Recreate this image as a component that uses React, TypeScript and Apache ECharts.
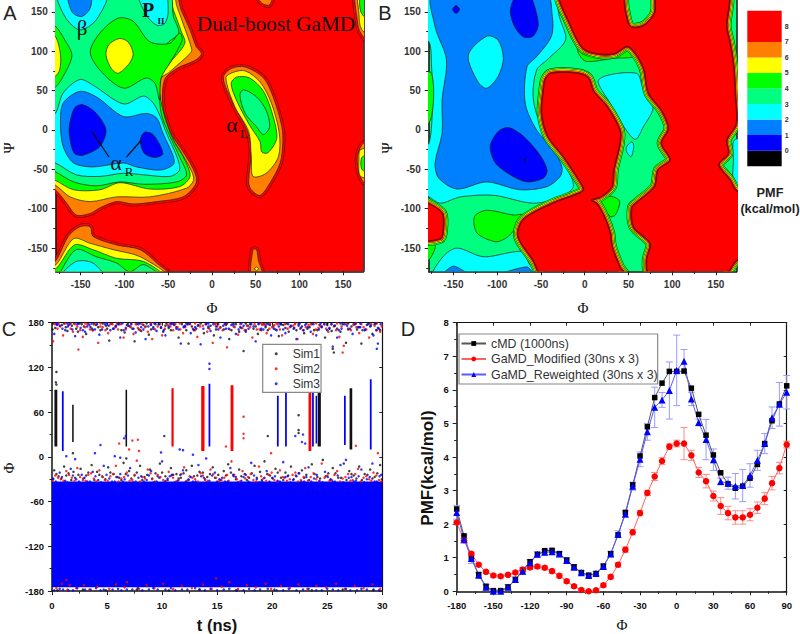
import React, { useEffect, useRef } from 'react';
import * as echarts from 'echarts';

const SANS = '"Liberation Sans", Arial, sans-serif';
const SERIF = '"Liberation Serif", "Times New Roman", serif';

const COLORS = {
  BLACK: '#000000',
  BLUE: '#0000ff',
  AZURE: '#0080ff',
  CYAN: '#00ffff',
  SPRING: '#00ff80',
  GREEN: '#00ff00',
  YELLOW: '#ffff00',
  ORANGE: '#ff8000',
  RED: '#ff0000',
  INK: '#222222',
};

// colour bar: [from, to, colour]
const barBands: [number, number, string][] = [
  [-1, 0, COLORS.BLACK],
  [0, 1, COLORS.BLUE],
  [1, 2, COLORS.AZURE],
  [2, 3, COLORS.CYAN],
  [3, 4, COLORS.SPRING],
  [4, 5, COLORS.GREEN],
  [5, 6, COLORS.YELLOW],
  [6, 7, COLORS.ORANGE],
  [7, 9, COLORS.RED],
];
const barTicks = [0, 1, 2, 3, 4, 5, 6, 7, 8];

type Pts = number[][];

// panel A contours, [phi, psi]
const aMainOrange: Pts = [[-190,-72],[-179,-76],[-166,-93],[-155,-108],[-139,-106],[-128,-99],[-109,-91],[-90,-94],[-63,-91],[-33,-85],[-19,-70],[-18,-59],[-25,-42],[-37,-21],[-48,-2],[-56,30],[-54,64],[-40,78],[-18,89],[-12,97],[-18,106],[-25,127],[-35,152],[-44,175],[-190,175]];
const aMainYellow: Pts = [[-190,-66],[-179,-70],[-162,-85],[-139,-91],[-109,-85],[-71,-85],[-29,-74],[-21,-64],[-23,-53],[-37,-25],[-48,-4],[-58,30],[-59,64],[-48,74],[-25,97],[-23,102],[-31,129],[-40,157],[-46,175],[-190,175]];
const aMainGreen: Pts = [[-190,-60],[-179,-64],[-158,-76],[-128,-76],[-105,-67],[-71,-75],[-37,-72],[-25,-59],[-31,-38],[-44,-13],[-56,25],[-60,64],[-48,85],[-31,110],[-35,125],[-44,152],[-52,175],[-190,175]];
const aMainSpring: Pts = [[-190,-48],[-179,-53],[-158,-66],[-132,-71],[-105,-66],[-78,-69],[-40,-66],[-29,-57],[-37,-34],[-48,-8],[-58,21],[-60,51],[-59,61],[-52,108],[-38,123],[-44,144],[-50,175],[-190,175]];
const aIslandGreen: Pts = [[-139,99],[-128,123],[-107,142],[-90,138],[-71,112],[-48,110],[-37,123],[-34,114],[-48,85],[-58,66],[-60,38],[-65,59],[-75,66],[-101,53],[-128,76]];
const aIslandYellow: Pts = [[-106,116],[-96,112],[-90,97],[-94,85],[-107,72],[-115,78],[-121,95],[-118,108]];
const aEdgeGreen: Pts = [[-190,136],[-179,132],[-168,114],[-160,95],[-168,72],[-179,54],[-190,50]];
const aEdgeYellow: Pts = [[-190,122],[-179,119],[-173,95],[-174,76],[-179,68],[-190,64]];
const aMainCyan: Pts = [[-190,21],[-179,21],[-170,47],[-151,64],[-136,57],[-101,33],[-78,43],[-67,34],[-59,17],[-52,-4],[-40,-34],[-37,-51],[-48,-59],[-78,-57],[-101,-55],[-128,-59],[-155,-57],[-179,-42],[-190,-42]];
const aMainAzure: Pts = [[-173,8],[-170,34],[-151,49],[-132,42],[-101,17],[-75,21],[-63,15],[-56,-4],[-44,-34],[-44,-44],[-59,-51],[-86,-47],[-101,-42],[-136,-47],[-158,-42],[-170,-21]];
const aBlueLeft: Pts = [[-163,4],[-157,28],[-147,32],[-132,21],[-121,0],[-128,-21],[-147,-32],[-157,-30],[-162,-13]];
const aBlueRight: Pts = [[-82,-13],[-77,-3],[-67,-6],[-56,-30],[-65,-35],[-77,-30]];
const aBetaCyan: Pts = [[-176,175],[-168,144],[-151,127],[-132,140],[-120,175]];
const aBetaAzure: Pts = [[-164,175],[-160,150],[-149,144],[-139,155],[-139,175]];
const aPiiCyan: Pts = [[-84,175],[-75,146],[-63,133],[-54,135],[-50,150],[-54,175]];
const aTopOrange: Pts = [[49,175],[57,161],[66,159],[69,175]];
const aRightTopOrange: Pts = [[165,175],[166,140],[170,123],[190,100],[190,175]];
const aRightTopYellow: Pts = [[168,175],[168,148],[171,128],[190,112],[190,175]];
const aRightTopGreen: Pts = [[171,175],[171,148],[190,135],[190,175]];
const aRightMidOrange: Pts = [[173,-17],[166,-38],[173,-66],[190,-66],[190,-17]];
const aRightMidYellow: Pts = [[170,-25],[168,-38],[170,-59],[190,-59],[190,-25]];
const aRightMidGreen: Pts = [[172,-34],[172,-51],[190,-51],[190,-34]];
const aLeftOrange: Pts = [[13,66],[22,78],[38,80],[59,66],[70,42],[80,4],[81,-17],[78,-42],[66,-68],[55,-83],[45,-76],[42,-66],[45,-25],[40,0],[24,34]];
const aLeftYellow: Pts = [[16,66],[24,73],[38,75],[55,61],[68,34],[77,-4],[76,-34],[62,-55],[47,-59],[45,-34],[42,-2],[26,30]];
const aLeftGreen: Pts = [[22,59],[28,67],[43,66],[59,49],[70,17],[74,-11],[64,-29],[57,-28],[55,-15],[42,8],[28,38]];
const aLeftSpring: Pts = [[32,44],[36,51],[51,42],[62,25],[66,4],[59,-6],[51,4],[38,21]];
const aLowOrange: Pts = [[-190,-172],[-179,-167],[-164,-135],[-151,-123],[-139,-123],[-136,-135],[-109,-146],[-82,-152],[-63,-169],[-48,-186],[-190,-186]];
const aLowYellow: Pts = [[-190,-176],[-178,-171],[-158,-138],[-139,-144],[-113,-152],[-82,-161],[-52,-186],[-190,-186]];
const aLowGreen: Pts = [[-190,-180],[-178,-176],[-157,-146],[-136,-152],[-109,-163],[-78,-167],[-56,-186],[-190,-186]];
const aLowSpring: Pts = [[-174,-182],[-155,-152],[-132,-161],[-109,-169],[-94,-180],[-78,-171],[-61,-186],[-174,-186]];
const aLowCyan: Pts = [[-172,-186],[-155,-167],[-136,-169],[-124,-186]];
const aSpotOrange: Pts = [[45,-186],[47,-152],[51,-152],[53,-165],[58,-186]];
const aSpotYellow: Pts = [[49,-176],[51,-174],[53,-176],[51,-179]];

// panel B contours, [phi, psi]
const bMainCyan: Pts = [[-190,175],[-40,175],[-28,140],[-22,114],[-43,89],[-55,76],[-59,42],[-51,8],[-32,-25],[-21,-47],[-13,-72],[-28,-85],[-59,-93],[-104,-83],[-142,-85],[-165,-93],[-178,-85],[-190,-80],[-190,-20],[-178,-17],[-174,38],[-175,80],[-178,112],[-190,112]];
const bMainAzure: Pts = [[-173,175],[-171,131],[-158,89],[-163,38],[-163,-4],[-171,-42],[-167,-61],[-146,-75],[-112,-66],[-74,-76],[-43,-72],[-28,-59],[-26,-47],[-36,-25],[-55,0],[-68,34],[-66,80],[-55,93],[-38,119],[-37,144],[-45,175]];
const bIslandCyan: Pts = [[-133,95],[-112,119],[-99,114],[-93,91],[-99,68],[-112,53],[-122,61]];
const bTopBlue: Pts = [[-85,152],[-76,175],[-64,175],[-53,135],[-59,119],[-70,118],[-80,131]];
const bDotBlue: Pts = [[-151,153],[-147,158],[-143,153],[-147,148]];
const bMainBlue: Pts = [[-108,-21],[-99,-2],[-87,3],[-70,-8],[-51,-32],[-43,-51],[-47,-61],[-66,-66],[-85,-57],[-102,-42]];
const bSpeck: Pts = [[-70,-37],[-68,-37],[-67,-39],[-69,-39]];
const bRightCyan: Pts = [[16,64],[59,72],[67,51],[78,28],[67,4],[58,-12],[46,2],[29,34]];
const bSmallCyan: Pts = [[48,-21],[54,-15],[56,-21],[53,-34],[48,-28]];
const bUpperGreen: Pts = [[-9,114],[-2,99],[14,95],[33,95],[50,102],[56,93],[33,91],[2,87],[-7,97]];
const bBlobGreen: Pts = [[19,-85],[33,-85],[40,-91],[35,-108],[29,-110],[19,-93]];
const bLowerGreen: Pts = [[-126,-110],[-112,-102],[-82,-108],[-70,-108],[-82,-129],[-91,-138],[-102,-142],[-123,-131]];
const bCornerGreen: Pts = [[-190,-144],[-171,-146],[-178,-165],[-190,-170]];
const bStripGreen: Pts = [[-190,70],[-175,72],[-175,17],[-190,-5]];
const bLowCyan: Pts = [[-173,-186],[-162,-161],[-146,-150],[-116,-161],[-82,-155],[-70,-155],[-64,-169],[-55,-186]];
const bLowAzureA: Pts = [[-163,-186],[-150,-173],[-132,-186]];
const bLowAzureB: Pts = [[-101,-186],[-66,-174],[-59,-186]];
const bEdgeCyan: Pts = [[171,-13],[170,-38],[171,-68],[190,-68],[190,-13]];
const bRedRight: Pts = [[-28,175],[-17,135],[-2,104],[14,97],[33,97],[50,106],[67,80],[73,47],[88,25],[96,2],[88,-17],[98,-38],[84,-51],[80,-72],[59,-93],[54,-99],[56,-123],[75,-144],[71,-165],[75,-186],[158,-186],[174,-165],[190,-165],[190,-78],[174,-78],[166,-64],[153,-44],[164,-30],[162,-13],[173,8],[172,42],[170,80],[166,110],[162,131],[162,175],[84,175],[80,148],[67,132],[52,131],[46,152],[41,175]];
const bRedInner: Pts = [[-45,64],[-38,72],[-9,72],[4,66],[10,49],[25,30],[40,0],[40,-17],[33,-51],[31,-72],[18,-85],[7,-89],[14,-94],[22,-110],[29,-131],[31,-148],[40,-174],[46,-186],[-47,-186],[-59,-165],[-76,-135],[-70,-114],[-36,-93],[-5,-80],[-1,-75],[-9,-59],[-24,-34],[-42,-8],[-49,21],[-47,51]];
const bRedLeft: Pts = [[-190,-90],[-178,-94],[-163,-106],[-162,-127],[-165,-138],[-190,-138]];

// panel C, dots, [t, phi]
const sim1Dots: Pts = [[0.4,114],[0.35,100],[0.4,97],[10.2,28],[19.6,28],[22.4,56],[22.4,36],[22.4,32],[6.75,-2],[1.9,5],[25.5,145],[25.6,140],
[0.3,173],[0.9,177],[1.4,169],[1.8,176],[2.2,172],[2.7,178],[3.1,165],[3.5,174],[4,177],[4.4,170],[4.9,176],[5.2,156],[5.6,172],[6.1,178],[6.6,167],[7.1,175],[7.5,155],[7.9,171],[8.3,177],[8.8,164],[9.2,174],[9.7,178],[10.1,168],[10.6,173],[11.1,177],[11.5,160],[12,175],[12.4,152],[12.9,170],[13.3,177],[13.8,166],[14.2,173],[14.7,163],[15.1,178],[15.6,171],[16.1,158],[16.5,175],[17,168],[17.4,142],[17.8,176],[18.3,172],[18.7,165],[19.2,178],[19.6,170],[20.1,175],[20.6,162],[21,177],[21.5,168],[22,173],[22.4,178],[22.9,166],[23.4,174],[23.8,170],[24.3,177],[24.8,160],[25.2,172],[25.7,176],[26.2,168],[26.7,153],[27.2,175],[27.7,171],[28.1,152],[28.6,177],[29.1,165],[29.6,173],
[0.1,179],[1.1,179],[2.5,179],[3.8,178],[5.4,179],[6.9,179],[8.6,179],[10.4,179],[12.2,179],[14,179],[15.9,179],[17.6,179],[19.5,179],[21.3,179],[23.1,179],[25,179],[26.9,179],[28.8,179],
[0.2,-18],[0.6,-26],[1.1,-13],[1.5,-22],[2.1,-28],[2.6,-16],[3.1,-25],[3.6,-11],[4.1,-20],[4.6,-27],[5.1,-14],[5.6,-23],[6.1,-28],[6.5,-8],[7,-19],[7.5,-25],[8,-12],[8.4,-27],[8.9,-17],[9.4,-22],[9.8,-9],[10.3,-26],[10.8,-15],[11.3,-23],[11.7,-28],[12.2,-18],[12.7,-12],[13.2,-25],[13.7,-21],[14.1,-27],[14.6,-14],[15.1,-24],[15.6,-19],[16,-10],[16.5,-26],[17,-17],[17.5,-23],[17.9,-28],[18.4,-12],[18.9,-20],[19.3,-6],[19.8,-25],[20.3,-16],[20.8,-28],[21.2,-21],[21.7,-13],[22.2,-26],[22.7,-18],[23.1,-24],[23.6,-10],[24.1,-27],[24.6,-4],[25.1,-22],[25.5,-15],[26,-28],[26.5,-9],[27,-19],[27.4,-25],[27.9,-13],[28.4,-23],[28.9,-17],[29.3,-27],[29.8,-11],
[0.5,-179],[2.8,-178],[4.9,-179],[7.7,-178],[10.6,-179],[13.4,-178],[16.8,-179],[20.2,-178],[23.6,-179],[26.4,-178],[29.2,-179]];
const sim1Extra: Pts = [[0.05,171],[0.5,178],[1.25,174],[2,179],[2.35,168],[2.9,175],[3.3,179],[3.7,170],[4.2,174],[4.6,179],[5,172],[5.8,176],[6.3,170],[6.8,177],[7.3,172],[7.7,178],[8.1,169],[8.5,175],[9,171],[9.4,178],[9.9,173],[10.3,176],[10.8,170],[11.3,174],[11.8,178],[12.2,170],[12.7,175],[13.1,172],[13.5,179],[14.4,176],[14.9,171],[15.3,174],[15.8,177],[16.3,170],[16.7,178],[17.2,173],[17.6,170],[18,178],[18.5,175],[19,170],[19.4,174],[19.8,177],[20.3,171],[20.8,178],[21.2,173],[21.7,176],[22.2,170],[22.7,175],[23.2,172],[23.6,178],[24.1,170],[24.5,174],[25,177],[25.4,169],[25.9,172],[26.4,178],[26.9,171],[27.4,178],[27.9,174],[28.4,170],[28.9,175],[29.3,178],[29.8,170],
[0.1,-30],[0.4,-23],[0.85,-29],[1.3,-25],[1.75,-31],[1.95,-20],[2.4,-24],[2.85,-29],[3.3,-21],[3.85,-31],[4.3,-24],[4.85,-30],[5.3,-21],[5.85,-27],[6.3,-31],[6.7,-23],[7.2,-29],[7.7,-21],[8.2,-31],[8.65,-24],[9.1,-29],[9.6,-26],[10,-21],[10.5,-31],[11,-24],[11.5,-29],[11.95,-22],[12.4,-31],[12.9,-26],[13.4,-20],[13.9,-30],[14.35,-23],[14.8,-28],[15.3,-31],[15.8,-25],[16.25,-21],[16.7,-30],[17.2,-26],[17.7,-31],[18.15,-22],[18.6,-28],[19.05,-31],[19.55,-23],[20.05,-29],[20.5,-21],[21,-31],[21.45,-25],[21.95,-30],[22.45,-22],[22.9,-28],[23.35,-31],[23.85,-23],[24.35,-29],[24.85,-26],[25.3,-31],[25.75,-22],[26.25,-28],[26.75,-31],[27.2,-23],[27.65,-29],[28.15,-31],[28.65,-24],[29.1,-29],[29.55,-22],[29.95,-30]];
const sim2Dots: Pts = [[2.4,144],[17.4,54],[17.4,31],[17.4,25],[6.1,18],[7.3,22],[7.8,23],[7,10],[7.9,8],[15.8,14],[26.4,140],[19.9,5],[29.6,5],[27.6,15],
[0.1,155],[0.5,172],[1,163],[1.5,177],[1.9,168],[2.3,175],[2.8,161],[3.2,178],[3.7,170],[4.2,153],[4.6,174],[5.1,166],[5.5,178],[6,171],[6.5,160],[6.9,176],[7.4,165],[7.8,173],[8.2,178],[8.7,168],[9.1,158],[9.6,175],[10,163],[10.5,177],[11,170],[11.4,174],[11.9,166],[12.3,178],[12.8,172],[13.2,161],[13.7,176],[14.1,168],[14.6,153],[15,175],[15.5,170],[15.9,147],[16.4,178],[16.9,164],[17.3,173],[17.7,176],[18.2,160],[18.6,171],[19.1,177],[19.5,166],[20,174],[20.5,178],[20.9,163],[21.4,172],[21.9,176],[22.3,158],[22.8,170],[23.3,177],[23.7,165],[24.2,173],[24.7,178],[25.1,168],[25.6,175],[26.1,161],[26.5,149],[26.9,172],[27.4,177],[27.9,166],[28.3,174],[28.8,160],[29.3,176],[29.8,168],
[0.6,179],[1.7,179],[3,179],[4.4,179],[5.9,179],[7.2,179],[9,179],[10.7,179],[11.6,179],[13,179],[14.9,179],[19,179],[19.8,179],[20.4,179],[22.1,179],[24,179],[25.9,179],[27.6,179],[29.5,179],
[0.3,-25],[0.8,-30],[1.3,-19],[1.8,-28],[2.3,-15],[2.8,-31],[3.3,-24],[3.8,-29],[4.3,-18],[4.8,-31],[5.3,-26],[5.8,-12],[6.3,-29],[6.8,-21],[7.3,-31],[7.7,-5],[8.2,-27],[8.7,-17],[9.1,-30],[9.6,-24],[10.1,-31],[10.6,-20],[11,-28],[11.5,-31],[12,-14],[12.5,-26],[13,-30],[13.5,-22],[13.9,-31],[14.4,-17],[14.9,-28],[15.4,-31],[15.9,-24],[16.3,-6],[16.8,-30],[17.3,-19],[17.8,-27],[18.3,-31],[18.8,-13],[19.2,-29],[19.7,-24],[20.2,-31],[20.7,-18],[21.1,-28],[21.6,-30],[22.1,-21],[22.6,-31],[23,-15],[23.5,-27],[24,-30],[24.5,-9],[25,-25],[25.4,-31],[25.9,-19],[26.4,-29],[26.9,-23],[27.3,-31],[27.8,-16],[28.3,-28],[28.8,-30],[29.2,-21],[29.7,-31],
[0.4,-176],[0.9,-170],[1.3,-165],[1.4,-178],[1.6,-172],[2.2,-176],[2.9,-172],[3.4,-178],[4.1,-174],[5.2,-177],[5.8,-171],[6.6,-175],[6.8,-168],[7.9,-177],[8.6,-172],[9.3,-176],[10.1,-170],[11,-177],[11.8,-173],[12.7,-176],[13.7,-171],[14.5,-177],[14.9,-163],[15.4,-174],[16.1,-168],[16.9,-177],[17.7,-172],[18.5,-175],[19.4,-170],[19.9,-177],[20.8,-173],[21.6,-176],[22.4,-171],[23.2,-177],[24,-173],[24.9,-175],[25.8,-170],[26.6,-177],[27.5,-173],[28.3,-176],[29.1,-171],[29.8,-177]];
const sim2Extra: Pts = [[0.25,178],[0.75,175],[1.2,179],[1.7,172],[2.1,178],[2.55,170],[3,174],[3.45,171],[3.9,178],[4.4,175],[4.85,170],[5.3,178],[5.75,174],[6.25,178],[6.7,171],[7.15,174],[7.6,178],[8,170],[8.45,174],[8.95,178],[9.35,171],[9.85,178],[10.25,172],[10.75,175],[11.2,178],[11.65,171],[12.1,174],[12.55,178],[13,170],[13.45,175],[13.95,178],[14.3,172],[14.8,178],[15.25,173],[15.7,178],[16.15,171],[16.6,174],[17.1,178],[17.5,170],[18,174],[18.4,178],[18.85,171],[19.3,178],[19.75,172],[20.2,177],[20.7,171],[21.15,178],[21.6,174],[22.05,178],[22.55,172],[23.05,174],[23.5,178],[23.95,171],[24.4,175],[24.9,172],[25.35,178],[25.8,170],[26.3,175],[26.7,178],[27.15,170],[27.65,174],[28.1,178],[28.55,171],[29,178],[29.5,170],[29.95,175],
[0.05,-32],[0.55,-28],[1.05,-32],[1.55,-24],[2.05,-32],[2.55,-27],[3.05,-32],[3.55,-22],[4.05,-33],[4.55,-26],[5.05,-32],[5.55,-23],[6.05,-33],[6.55,-27],[7.05,-32],[7.5,-24],[8,-33],[8.45,-29],[8.95,-22],[9.35,-33],[9.85,-27],[10.35,-32],[10.85,-25],[11.25,-33],[11.75,-23],[12.25,-32],[12.75,-28],[13.25,-33],[13.7,-25],[14.15,-32],[14.65,-23],[15.15,-33],[15.65,-28],[16.05,-32],[16.55,-24],[17.05,-33],[17.55,-29],[18.05,-23],[18.55,-33],[19,-26],[19.45,-32],[19.95,-21],[20.45,-33],[20.95,-27],[21.35,-32],[21.85,-24],[22.35,-33],[22.85,-27],[23.25,-32],[23.75,-22],[24.25,-33],[24.75,-28],[25.2,-32],[25.65,-24],[26.15,-33],[26.65,-27],[27.1,-32],[27.55,-23],[28.05,-33],[28.55,-26],[29,-32],[29.45,-25],[29.9,-33]];
const sim3Dots: Pts = [[6.7,28],[6.55,25],[4.4,16],[3.9,5],[9.9,6],[11.6,10],[11.9,9],[12.8,3],[22.8,30],[22.1,28],[22.7,20],[23,18],[5.7,1],[6.2,-1],[1.3,1],[2.1,-3],[14.3,125],[14.3,118],[29.5,145],[29.6,152],[25.5,148],[14,-2],
[0.2,165],[0.7,176],[1.2,170],[1.6,178],[2.1,162],[2.6,173],[3,168],[3.4,177],[3.9,171],[4.3,164],[4.8,178],[5.3,170],[5.8,175],[6.2,160],[6.7,173],[7.2,178],[7.6,167],[8.1,174],[8.5,158],[9,177],[9.5,169],[9.9,174],[10.3,163],[10.8,178],[11.3,172],[11.7,152],[12.1,176],[12.6,166],[13,174],[13.5,151],[14,178],[14.4,169],[14.9,175],[15.3,160],[15.8,172],[16.3,177],[16.7,165],[17.1,174],[17.6,168],[18.1,178],[18.5,155],[19,172],[19.4,176],[19.9,163],[20.4,170],[20.8,178],[21.2,166],[21.7,175],[22.2,158],[22.6,173],[23,177],[23.5,168],[24,163],[24.5,175],[25,170],[25.4,178],[25.9,160],[26.3,172],[26.8,176],[27.3,165],[27.8,174],[28.2,170],[28.7,178],[29.2,163],[29.7,172],
[0.4,179],[1.4,179],[2.4,179],[3.6,179],[5,179],[6.4,179],[8,179],[9.3,179],[10.9,179],[12.5,179],[14.2,179],[15.7,179],[17.2,179],[18.8,179],[20.7,179],[22.5,179],[24.4,179],[26.2,179],[28,179],[29.4,179],
[0.1,-29],[0.7,-21],[1.2,-32],[1.7,-16],[2.2,-30],[2.7,-24],[3.2,-33],[3.7,-20],[4.2,-31],[4.7,-12],[5.2,-29],[5.7,-33],[6.2,-23],[6.6,-30],[7.1,-15],[7.6,-33],[8.1,-26],[8.6,-31],[9,-19],[9.5,-33],[10,-6],[10.5,-29],[10.9,-24],[11.4,-32],[11.9,-18],[12.4,-30],[12.8,-33],[13.3,-11],[13.8,-28],[14.3,-32],[14.8,-21],[15.2,-30],[15.7,-33],[16.2,-15],[16.7,-27],[17.2,-32],[17.6,-24],[18.1,-8],[18.6,-30],[19.1,-33],[19.5,-19],[20,-28],[20.5,-32],[21,-7],[21.4,-26],[21.9,-31],[22.4,-22],[22.9,-33],[23.3,-14],[23.8,-29],[24.3,-32],[24.8,-20],[25.3,-30],[25.7,-33],[26.2,-11],[26.7,-4],[27.2,-27],[27.6,-32],[28.1,-17],[28.6,-30],[29.1,-9],[29.5,-33],[29.9,-24],
[0.2,-179],[1,-178],[1.9,-179],[3,-178],[4.4,-179],[5.5,-178],[6.3,-179],[7.3,-178],[8.2,-179],[9.6,-178],[11.2,-179],[12.3,-178],[13.9,-179],[15.6,-178],[17.4,-179],[18.9,-178],[21,-179],[22.8,-178],[24.5,-179],[25.5,-178],[27.1,-179],[28.6,-178],[29.7,-179]];
const sim3Extra: Pts = [[0.45,177],[0.95,172],[1.45,175],[1.85,171],[2.3,178],[2.8,170],[3.2,175],[3.65,172],[4.1,178],[4.55,171],[5.15,176],[5.55,172],[6,178],[6.5,170],[6.95,176],[7.4,172],[7.85,178],[8.3,171],[8.75,175],[9.2,172],[9.7,178],[10.15,170],[10.6,175],[11.05,178],[11.5,171],[11.95,174],[12.35,178],[12.85,171],[13.25,176],[13.75,172],[14.2,175],[14.65,178],[15.1,171],[15.55,176],[16.05,172],[16.5,178],[16.95,171],[17.4,176],[17.85,172],[18.3,175],[18.75,178],[19.2,171],[19.65,178],[20.15,172],[20.6,175],[21,171],[21.45,178],[21.95,172],[22.4,176],[22.85,170],[23.25,174],[23.75,178],[24.25,171],[24.75,178],[25.2,173],[25.65,176],[26.05,170],[26.55,178],[27.05,172],[27.55,178],[28,174],[28.45,171],[28.95,176],[29.45,170],[29.85,178],
[0.35,-33],[0.9,-27],[1.4,-34],[1.9,-25],[2.45,-33],[2.95,-28],[3.45,-33],[3.95,-26],[4.45,-34],[4.95,-24],[5.45,-33],[5.95,-27],[6.45,-33],[6.9,-25],[7.35,-34],[7.85,-28],[8.35,-33],[8.8,-25],[9.25,-34],[9.75,-28],[10.25,-33],[10.7,-26],[11.15,-34],[11.65,-24],[12.15,-33],[12.6,-27],[13.05,-33],[13.55,-26],[14.05,-34],[14.55,-25],[15,-33],[15.45,-28],[15.95,-33],[16.45,-24],[16.9,-34],[17.4,-27],[17.85,-33],[18.35,-25],[18.85,-34],[19.3,-28],[19.75,-33],[20.25,-26],[20.7,-33],[21.2,-27],[21.65,-34],[22.15,-25],[22.65,-33],[23.1,-27],[23.55,-33],[24.05,-24],[24.55,-34],[25.05,-27],[25.5,-33],[25.95,-25],[26.45,-34],[26.95,-28],[27.4,-33],[27.85,-26],[28.35,-34],[28.85,-27],[29.3,-33],[29.75,-26],
[0.7,-177],[1.5,-179],[2.3,-176],[3.5,-178],[4,-176],[4.7,-178],[6,-177],[6.8,-178],[7.8,-176],[8.8,-178],[9.2,-176],[10.3,-178],[10.8,-176],[11.8,-178],[13,-176],[13.4,-178],[14.4,-177],[15,-179],[16.1,-177],[16.7,-179],[17.9,-177],[18.4,-179],[19.6,-177],[20.4,-179],[21.5,-177],[22.2,-179],[23.3,-177],[24,-179],[25,-177],[26,-179],[26.7,-177],[27.7,-179],[28.1,-177],[29.2,-178]];

// panel C, long runs of points read as streaks: [tFrom, tTo, phiFrom, phiTo]
const sim1Streaks: Pts = [[0.22,0.48,14,90],[1.83,1.97,20,70],[6.68,6.82,14,90],[24.13,24.42,14,96],[27.03,27.27,10,92]];
const sim2Streaks: Pts = [[10.85,11.05,14,92],[13.55,13.85,8,95],[16.22,16.48,8,96],[23.3,23.55,8,92]];
const sim3Streaks: Pts = [[0.9,1.06,8,88],[14.22,14.38,14,98],[20.43,20.59,14,82],[21.17,21.33,14,92],[23.62,23.78,14,92],[23.94,24.08,18,82],[26.52,26.68,16,82],[28.87,29.03,10,104]];
const coveredBand = [-175, -33];

// panel D
const phiTicks = [-180,-174,-168,-162,-156,-150,-144,-138,-132,-126,-120,-114,-108,-102,-96,-90,-84,-78,-72,-66,-60,-54,-48,-42,-36,-30,-24,-18,-12,-6,0,6,12,18,24,30,36,42,48,54,60,66,72,78,84,90];
const cmdPmf = [2.45,1.65,1.0,0.5,0.15,0.02,0.02,0.13,0.35,0.63,0.88,1.1,1.21,1.22,1.12,0.93,0.73,0.56,0.48,0.53,0.75,1.12,1.68,2.35,3.17,4.03,4.9,5.77,6.2,6.55,6.55,6.56,6.05,5.27,4.65,4.06,3.53,3.2,3.07,3.13,3.37,3.78,4.4,5.08,5.58,6.12];
const modifiedPmf = [2.05,1.52,1.12,0.79,0.58,0.47,0.45,0.49,0.56,0.65,0.71,0.74,0.7,0.6,0.46,0.3,0.15,0.04,0,0.03,0.18,0.43,0.79,1.24,1.76,2.33,2.93,3.42,3.88,4.31,4.4,4.4,4.05,3.54,3.28,2.84,2.54,2.33,2.2,2.2,2.28,2.49,2.76,3.22,3.67,4.37];
const reweightedPmf = [2.35,1.55,0.98,0.48,0.12,0,0,0.12,0.35,0.6,0.85,1.1,1.16,1.18,1.11,0.92,0.72,0.55,0.47,0.53,0.74,1.11,1.7,2.3,3.13,3.93,4.75,5.48,5.7,5.98,6.58,6.85,5.73,5.03,4.52,3.92,3.27,3.22,3.13,3.15,3.45,3.9,4.4,5.17,5.57,5.93];
const modifiedErr = [0.05,0.06,0.05,0.05,0.05,0.05,0.05,0.05,0.05,0.05,0.06,0.06,0.06,0.06,0.06,0.06,0.05,0.05,0.03,0.04,0.05,0.06,0.07,0.08,0.08,0.08,0.08,0.12,0.1,0.08,0.1,0.48,0.15,0.15,0.2,0.15,0.25,0.2,0.2,0.2,0.18,0.17,0.18,0.2,0.17,0.1];
const reweightedErr = [0.2,0.12,0.15,0.08,0.08,0.05,0.05,0.08,0.08,0.1,0.1,0.08,0.08,0.08,0.08,0.08,0.06,0.06,0.06,0.06,0.08,0.08,0.1,0.1,0.12,0.22,0.25,0.6,0.22,0.85,1.05,0.35,0.2,0.1,0.6,0.32,0.1,0.18,0.38,0.48,0.35,0.3,0.3,0.32,0.65,0.5];

// axis tick values
const mapMajor = [-150,-100,-50,0,50,100,150];
const mapMinorX = [-175,-125,-75,-25,25,75,125];
const mapMinorY = [-175,-125,-75,-25,25,75,125];
const cMajorX = [0,5,10,15,20,25,30];
const cMinorX = [2.5,7.5,12.5,17.5,22.5,27.5];
const cMajorY = [-180,-120,-60,0,60,120,180];
const cMinorY = [-150,-90,-30,30,90,150];
const dMajorX = [-180,-150,-120,-90,-60,-30,0,30,60,90];
const dMinorX = [-165,-135,-105,-75,-45,-15,15,45,75];
const dMajorY = [0,1,2,3,4,5,6,7,8];
const dMinorY = [0.5,1.5,2.5,3.5,4.5,5.5,6.5,7.5];

const xAxes: any[] = [];
const yAxes: any[] = [];

const makeAxis = (grid: number, position: string, min: number, max: number, values: number[], o: any = {}) => ({
  type: 'value',
  gridIndex: grid,
  position,
  min,
  max,
  splitLine: { show: false },
  axisLine: { show: !!o.line, onZero: false, lineStyle: { color: o.lineColor || '#111', width: o.line || 1 } },
  axisTick: {
    show: !!o.tick,
    inside: !!o.inside,
    length: o.tick || 0,
    customValues: values,
    lineStyle: { color: '#222', width: 1 },
  },
  axisLabel: {
    show: !!o.label,
    customValues: values,
    margin: o.margin || 8,
    color: o.color || '#111',
    fontFamily: SANS,
    fontWeight: 'bold',
    fontSize: o.size || 10,
  },
});

// main axes keep index = grid index
xAxes.push(makeAxis(0, 'bottom', -178.5, 173, mapMajor, { line: 1.5, tick: 4, label: true, margin: 8, color: '#333' }));
yAxes.push(makeAxis(0, 'left', -179.5, 165, mapMajor, { line: 1.5, tick: 4, label: true, margin: 8, color: '#333' }));
xAxes.push(makeAxis(1, 'bottom', -178.3, 173.7, mapMajor, { line: 1.5, tick: 4, label: true, margin: 8, color: '#333' }));
yAxes.push(makeAxis(1, 'left', -179.5, 165, mapMajor, { line: 1.5, tick: 4, label: true, margin: 8, color: '#333' }));
xAxes.push(makeAxis(2, 'bottom', 0, 30, cMajorX, { line: 1.5, tick: 4, label: true, margin: 9, size: 9.5 }));
yAxes.push(makeAxis(2, 'left', -180, 180, cMajorY, { line: 1.5, tick: 4, label: true, margin: 8, size: 9.5 }));
xAxes.push(makeAxis(3, 'bottom', -180, 90, dMajorX, { line: 1.5, tick: 4, label: true, margin: 9, size: 9.5 }));
yAxes.push(makeAxis(3, 'left', 0, 8, dMajorY, { line: 1.5, tick: 4, label: true, margin: 8, size: 9.5 }));
xAxes.push(makeAxis(4, 'bottom', 0, 1, []));
yAxes.push(makeAxis(4, 'right', -1, 9, barTicks, { label: true, margin: 3, size: 7, color: '#333' }));
// minor ticks and the far spines
xAxes.push(makeAxis(0, 'bottom', -178.5, 173, mapMinorX, { tick: 2.5 }));
yAxes.push(makeAxis(0, 'left', -179.5, 165, mapMinorY, { tick: 2.5 }));
yAxes.push(makeAxis(0, 'right', -179.5, 165, [], { line: 1.5 }));
xAxes.push(makeAxis(1, 'bottom', -178.3, 173.7, mapMinorX, { tick: 2.5 }));
yAxes.push(makeAxis(1, 'left', -179.5, 165, mapMinorY, { tick: 2.5 }));
yAxes.push(makeAxis(1, 'right', -179.5, 165, [], { line: 1.5 }));
xAxes.push(makeAxis(2, 'bottom', 0, 30, cMinorX, { tick: 2.5 }));
yAxes.push(makeAxis(2, 'left', -180, 180, cMinorY, { tick: 2.5 }));
xAxes.push(makeAxis(2, 'top', 0, 30, cMajorX, { line: 1.2, tick: 3, inside: true }));
yAxes.push(makeAxis(2, 'right', -180, 180, cMajorY, { line: 1.2, tick: 3, inside: true }));
xAxes.push(makeAxis(3, 'bottom', -180, 90, dMinorX, { tick: 2.5 }));
yAxes.push(makeAxis(3, 'left', 0, 8, dMinorY, { tick: 2.5 }));
xAxes.push(makeAxis(3, 'top', -180, 90, dMajorX, { line: 1.2, tick: 3, inside: true }));
yAxes.push(makeAxis(3, 'right', 0, 8, dMajorY, { line: 1.2, tick: 3, inside: true }));

const dark = '#1c1c1c';
const outline = { stroke: dark, lineWidth: 0.7 };
// stroke stacks that stand in for the very narrow contour bands next to the red basin
const ringA = [[5, '#501010'], [3.9, COLORS.RED]];
const ringB = [[10, dark], [9.2, COLORS.GREEN], [7, dark], [6.4, COLORS.YELLOW], [5, '#3a2a00'], [4.4, COLORS.ORANGE], [2.6, '#501010'], [1.8, '#d00000']];

type Layer = [Pts, string, any[]?];

const layersA: Layer[] = [
  [aMainOrange, COLORS.ORANGE, ringA], [aLowOrange, COLORS.ORANGE, ringA], [aLeftOrange, COLORS.ORANGE, ringA],
  [aTopOrange, COLORS.ORANGE, ringA], [aRightTopOrange, COLORS.ORANGE, ringA], [aRightMidOrange, COLORS.ORANGE, ringA], [aSpotOrange, COLORS.ORANGE, ringA],
  [aMainYellow, COLORS.YELLOW], [aLowYellow, COLORS.YELLOW], [aLeftYellow, COLORS.YELLOW], [aRightTopYellow, COLORS.YELLOW], [aRightMidYellow, COLORS.YELLOW], [aSpotYellow, COLORS.YELLOW],
  [aMainGreen, COLORS.GREEN], [aLowGreen, COLORS.GREEN], [aLeftGreen, COLORS.GREEN], [aRightTopGreen, COLORS.GREEN], [aRightMidGreen, COLORS.GREEN],
  [aMainSpring, COLORS.SPRING], [aLowSpring, COLORS.SPRING], [aLeftSpring, COLORS.SPRING],
  [aIslandGreen, COLORS.GREEN], [aEdgeGreen, COLORS.GREEN], [aIslandYellow, COLORS.YELLOW], [aEdgeYellow, COLORS.YELLOW],
  [aMainCyan, COLORS.CYAN], [aBetaCyan, COLORS.CYAN], [aPiiCyan, COLORS.CYAN], [aLowCyan, COLORS.CYAN],
  [aMainAzure, COLORS.AZURE], [aBetaAzure, COLORS.AZURE],
  [aBlueLeft, COLORS.BLUE], [aBlueRight, COLORS.BLUE],
];

const layersB: Layer[] = [
  [bMainCyan, COLORS.CYAN], [bLowCyan, COLORS.CYAN], [bEdgeCyan, COLORS.CYAN], [bRightCyan, COLORS.CYAN], [bSmallCyan, COLORS.CYAN],
  [bMainAzure, COLORS.AZURE], [bLowAzureA, COLORS.AZURE], [bLowAzureB, COLORS.AZURE],
  [bIslandCyan, COLORS.CYAN],
  [bTopBlue, COLORS.BLUE], [bDotBlue, COLORS.BLUE], [bMainBlue, COLORS.BLUE], [bSpeck, COLORS.BLACK],
  [bUpperGreen, COLORS.GREEN], [bBlobGreen, COLORS.GREEN], [bLowerGreen, COLORS.GREEN], [bCornerGreen, COLORS.GREEN], [bStripGreen, COLORS.GREEN],
  [bRedRight, COLORS.RED, ringB], [bRedInner, COLORS.RED, ringB], [bRedLeft, COLORS.RED, ringB],
];

const contourSeries = (index: number, layers: Layer[]) => ({
  type: 'custom',
  xAxisIndex: index,
  yAxisIndex: index,
  clip: true,
  silent: true,
  data: layers.map((_, i) => [i, 0]),
  renderItem: (params: any, api: any) => {
    const [pts, fill, rings] = layers[params.dataIndex];
    const points = pts.map((p) => api.coord(p));
    const shape = { points, smooth: 0.3 };
    const children: any[] = (rings || []).map((r: any) => ({
      type: 'polygon',
      shape,
      style: { fill: 'none', stroke: r[1], lineWidth: r[0], lineJoin: 'round' },
    }));
    children.push({ type: 'polygon', shape, style: { fill, ...outline } });
    return { type: 'group', children };
  },
});

const streakSeries = (streaks: Pts, color: string) => ({
  type: 'custom',
  xAxisIndex: 2,
  yAxisIndex: 2,
  clip: true,
  silent: true,
  data: streaks,
  renderItem: (_: any, api: any) => {
    const a = api.coord([api.value(0), api.value(3)]);
    const b = api.coord([api.value(1), api.value(2)]);
    return { type: 'rect', shape: { x: a[0], y: a[1], width: b[0] - a[0], height: b[1] - a[1] }, style: { fill: color } };
  },
});

const errorSeries = (values: number[], errs: number[], color: string) => ({
  type: 'custom',
  xAxisIndex: 3,
  yAxisIndex: 3,
  clip: false,
  silent: true,
  data: phiTicks.map((p, i) => [p, values[i] - errs[i], values[i] + errs[i]]),
  renderItem: (_: any, api: any) => {
    const lo = api.coord([api.value(0), api.value(1)]);
    const hi = api.coord([api.value(0), api.value(2)]);
    const style = { stroke: color, lineWidth: 1 };
    return {
      type: 'group',
      children: [
        { type: 'line', shape: { x1: lo[0], y1: lo[1], x2: hi[0], y2: hi[1] }, style },
        { type: 'line', shape: { x1: lo[0] - 3.5, y1: lo[1], x2: lo[0] + 3.5, y2: lo[1] }, style },
        { type: 'line', shape: { x1: hi[0] - 3.5, y1: hi[1], x2: hi[0] + 3.5, y2: hi[1] }, style },
      ],
    };
  },
});

const dotSeries = (name: string, dots: Pts, color: string) => ({
  name,
  type: 'scatter',
  xAxisIndex: 2,
  yAxisIndex: 2,
  symbol: 'circle',
  symbolSize: 2.5,
  large: false,
  itemStyle: { color },
  data: dots,
  silent: true,
});

const pmfSeries = (name: string, values: number[], line: string, mark: string, symbol: string, size: number) => ({
  name,
  type: 'line',
  xAxisIndex: 3,
  yAxisIndex: 3,
  clip: false,
  symbol,
  symbolSize: size,
  lineStyle: { color: line, width: 1 },
  itemStyle: { color: mark },
  data: phiTicks.map((p, i) => [p, values[i]]),
});

const label = (text: string, x: number, y: number, font: string, fill = '#111', rotation = 0) => ({
  type: 'text',
  x,
  y,
  rotation,
  z: 50,
  silent: true,
  style: { text, font, fill, align: 'center', verticalAlign: 'middle' },
});

const leader = (x1: number, y1: number, x2: number, y2: number) => ({
  type: 'line',
  z: 50,
  silent: true,
  shape: { x1, y1, x2, y2 },
  style: { stroke: '#111', lineWidth: 1.3 },
});

const option: any = {
  animation: false,
  backgroundColor: '#ffffff',
  grid: [
    { left: 55.7, top: 0, width: 307.6, height: 271.3, show: true, backgroundColor: COLORS.RED, borderWidth: 0 },
    { left: 428.7, top: 0, width: 308, height: 271.3, show: true, backgroundColor: COLORS.SPRING, borderWidth: 0 },
    { left: 52, top: 322.7, width: 330.3, height: 268.4 },
    { left: 456.7, top: 322.7, width: 330, height: 268.6 },
    { left: 747.3, top: 10.8, width: 34.4, height: 155.4 },
  ],
  xAxis: xAxes,
  yAxis: yAxes,
  legend: [
    {
      data: ['Sim1', 'Sim2', 'Sim3'],
      orient: 'vertical',
      left: 262.7,
      top: 344.3,
      padding: [3, 1, 2, 12],
      itemWidth: 3,
      itemHeight: 3,
      itemGap: 2,
      icon: 'circle',
      backgroundColor: '#ffffff',
      borderColor: '#888888',
      borderWidth: 1.2,
      selectedMode: false,
      textStyle: { fontFamily: SANS, fontSize: 12, color: '#333', padding: [0, 0, 0, 10], lineHeight: 13 },
    },
    {
      data: ['cMD (1000ns)', 'GaMD_Modified (30ns x 3)', 'GaMD_Reweighted (30ns x 3)'],
      orient: 'vertical',
      left: 459,
      top: 334,
      padding: [3, 0, 3, 1.5],
      itemWidth: 24.5,
      itemHeight: 6,
      itemGap: 2.5,
      backgroundColor: '#ffffff',
      borderColor: '#888888',
      borderWidth: 1.2,
      selectedMode: false,
      textStyle: { fontFamily: SANS, fontSize: 12.4, color: '#333', lineHeight: 13 },
    },
  ],
  series: [
    contourSeries(0, layersA),
    contourSeries(1, layersB),
    {
      type: 'custom',
      xAxisIndex: 4,
      yAxisIndex: 4,
      silent: true,
      data: barBands,
      renderItem: (params: any, api: any) => {
        const band = barBands[params.dataIndex];
        const a = api.coord([0, band[1]]);
        const b = api.coord([1, band[0]]);
        return { type: 'rect', shape: { x: a[0], y: a[1], width: b[0] - a[0], height: b[1] - a[1] }, style: { fill: band[2] } };
      },
    },
    dotSeries('Sim1', sim1Dots.concat(sim1Extra), '#111111'),
    streakSeries(sim1Streaks, '#111111'),
    dotSeries('Sim2', sim2Dots.concat(sim2Extra), COLORS.RED),
    streakSeries(sim2Streaks, COLORS.RED),
    dotSeries('Sim3', sim3Dots.concat(sim3Extra), COLORS.BLUE),
    streakSeries(sim3Streaks, COLORS.BLUE),
    {
      type: 'custom',
      xAxisIndex: 2,
      yAxisIndex: 2,
      silent: true,
      clip: true,
      z: 1,
      data: [[0, coveredBand[0], 30, coveredBand[1]]],
      renderItem: (_: any, api: any) => {
        const a = api.coord([api.value(0), api.value(3)]);
        const b = api.coord([api.value(2), api.value(1)]);
        return { type: 'rect', shape: { x: a[0], y: a[1], width: b[0] - a[0], height: b[1] - a[1] }, style: { fill: COLORS.BLUE } };
      },
    },
    errorSeries(modifiedPmf, modifiedErr, '#ff8a8a'),
    errorSeries(reweightedPmf, reweightedErr, '#9a9aff'),
    pmfSeries('cMD (1000ns)', cmdPmf, '#555555', '#000000', 'rect', 5.5),
    pmfSeries('GaMD_Modified (30ns x 3)', modifiedPmf, '#ff6060', COLORS.RED, 'circle', 6.5),
    pmfSeries('GaMD_Reweighted (30ns x 3)', reweightedPmf, '#5a5aff', COLORS.BLUE, 'triangle', 7),
  ],
  graphic: [
    label('A', 10, 13, `20px ${SANS}`, '#222'),
    label('B', 385, 13, `20px ${SANS}`, '#222'),
    label('C', 9, 329, `20px ${SANS}`, '#222'),
    label('D', 408, 329, `20px ${SANS}`, '#222'),
    label('Dual-boost GaMD', 276, 24, `21.2px ${SERIF}`),
    label('β', 82, 28, `21px ${SERIF}`),
    label('P', 148, 10, `bold 20px ${SERIF}`),
    label('II', 161, 21, `bold 9px ${SERIF}`),
    label('α', 232, 124, `22px ${SERIF}`),
    label('L', 244, 133, `13px ${SERIF}`),
    label('α', 116, 162, `22px ${SERIF}`),
    label('R', 129, 171, `13px ${SERIF}`),
    leader(92, 131.5, 109, 157),
    leader(126.5, 157, 141.5, 140),
    label('Φ', 212, 308, `15px ${SERIF}`),
    label('Φ', 583, 308, `15px ${SERIF}`),
    label('Φ', 622, 625, `15px ${SERIF}`),
    label('Ψ', 9, 148, `15px ${SERIF}`, '#111', Math.PI / 2),
    label('Ψ', 387, 148, `15px ${SERIF}`, '#111', Math.PI / 2),
    label('Φ', 9, 468, `15px ${SERIF}`, '#111', Math.PI / 2),
    label('t (ns)', 217, 624.5, `bold 16.5px ${SANS}`),
    label('PMF(kcal/mol)', 427, 468, `bold 17px ${SANS}`, '#111', Math.PI / 2),
    label('PMF', 770, 193, `bold 12.7px ${SANS}`, '#222'),
    label('(kcal/mol)', 770, 209, `bold 12.7px ${SANS}`, '#222'),
  ],
};

const App: React.FC = () => {
  const divEL = useRef(null);

  useEffect(() => {
    const instance = echarts.init(divEL.current as any, undefined, { renderer: 'svg' });
    instance.setOption(option);
    return () => {
      instance.dispose();
    };
  }, []);

  return <div ref={divEL} style={{ position: 'fixed', left: 0, top: 0, width: 800, height: 634 }}></div>;
};

export default App;
